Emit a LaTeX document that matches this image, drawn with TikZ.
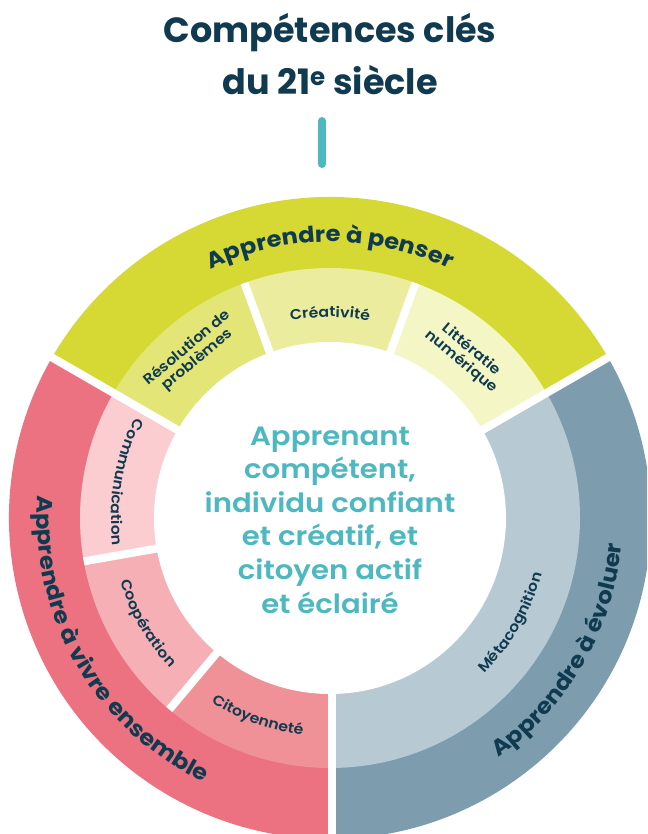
\documentclass[tikz,border=0pt]{standalone}
\usepackage{fontspec}
\setmainfont{Poppins}
\newfontfamily\popsb{Poppins SemiBold}[FakeStretch=1.1]
\newfontfamily\popbw{Poppins Bold}[FakeStretch=1.1]
\usetikzlibrary{decorations.text,calc}
\definecolor{navy}{HTML}{0F3A4F}
\definecolor{cteal}{HTML}{4DB8C0}
\definecolor{yel}{HTML}{D6D934}
\definecolor{yelA}{HTML}{E3E577}
\definecolor{yelB}{HTML}{ECEC9E}
\definecolor{yelC}{HTML}{F4F6C6}
\definecolor{pnk}{HTML}{EC7282}
\definecolor{pnkA}{HTML}{FBCDD1}
\definecolor{pnkB}{HTML}{F6AFB4}
\definecolor{pnkC}{HTML}{F09097}
\definecolor{blu}{HTML}{7D9DAF}
\definecolor{bluL}{HTML}{B7C9D3}
\newcommand\ringpie[4]{\fill[#1] (C) -- ++(#2:#4) arc[start angle=#2, end angle=#3, radius=#4] -- cycle;}
\tikzset{
  gap/.style={white, line width=8pt},
  outerlbl/.style={decorate, decoration={text along path, text align=center, text color=navy,
     text={|\popbw\fontsize{22}{22}\selectfont|#1}}},
  innerlbl/.style={decorate, decoration={text along path, text align=center, text color=navy,
     text={|\popsb\fontsize{14.3}{14.3}\selectfont|#1}}},
  innernode/.style={align=center, text=navy, font=\popsb\fontsize{14.3}{15.5}\selectfont, inner sep=0pt}
}
\begin{document}
\begin{tikzpicture}[x=1pt,y=1pt]
\useasboundingbox (0,0) rectangle (647,834);
\clip (0,0) rectangle (647,834);
\coordinate (C) at (330,316);
% outer ring
\ringpie{yel}{30}{150}{321pt}
\ringpie{pnk}{150}{270}{321pt}
\ringpie{blu}{270}{390}{321pt}
% inner ring
\ringpie{yelA}{110}{150}{250pt}
\ringpie{yelB}{70}{110}{250pt}
\ringpie{yelC}{30}{70}{250pt}
\ringpie{pnkA}{150}{190}{250pt}
\ringpie{pnkB}{190}{230}{250pt}
\ringpie{pnkC}{230}{270}{250pt}
\ringpie{bluL}{270}{390}{250pt}
% centre disc
\fill[white] (C) circle[radius=176pt];
% gaps
\draw[gap] (C) -- ++(30:340pt);
\draw[gap] (C) -- ++(150:340pt);
\draw[gap] ([xshift=2pt]C) -- ++(270:340pt);
\draw[gap] (C) -- ++(70:250pt);
\draw[gap] (C) -- ++(110:250pt);
\draw[gap] (C) -- ++(190:250pt);
\draw[gap] (C) -- ++(230:250pt);
% outer labels
\path[outerlbl={Apprendre à penser}] (C) ++(150:276pt) arc[start angle=150, end angle=30, radius=276pt];
\path[outerlbl={Apprendre à vivre ensemble}] (C) ++(150:293pt) arc[start angle=150, end angle=270, radius=293pt];
\path[outerlbl={Apprendre à évoluer}] (C) ++(270:293pt) arc[start angle=270, end angle=390, radius=293pt];
% inner labels
\path[innerlbl={Créativité}] (C) ++(110:201pt) arc[start angle=110, end angle=70, radius=201pt];
\path[innerlbl={Communication}] (C) ++(150:219pt) arc[start angle=150, end angle=190, radius=219pt];
\path[innerlbl={Coopération}] (C) ++(190:219pt) arc[start angle=190, end angle=230, radius=219pt];
\path[innerlbl={Citoyenneté}] (C) ++(230:219pt) arc[start angle=230, end angle=270, radius=219pt];
\path[innerlbl={Métacognition}] (C) ++(270:219pt) arc[start angle=270, end angle=390, radius=219pt];
\node[innernode, rotate=40] (reso) at ($(C)+(130:214pt)$) {Résolution de\\problèmes};
\node[innernode, rotate=-40] (litt) at ($(C)+(50:212pt)$) {Littératie\\numérique};
% centre text
\node[align=center, text=cteal, font=\popsb\fontsize{26.5}{33.6}\selectfont] (centre) at (330,314)
  {Apprenant\\compétent,\\individu confiant\\et créatif, et\\citoyen actif\\et éclairé};
% title
\node[anchor=base, text=navy, font=\bfseries\fontsize{35}{35}\selectfont] (t1) at (330,791) {Compétences clés};
\node[anchor=base, text=navy, font=\bfseries\fontsize{35}{35}\selectfont] (t2) at (330,739) {du 21\textsuperscript{e} siècle};
% bar
\coordinate (b1) at (322,713);
\coordinate (b2) at (322,670);
\draw[cteal, line width=8pt, line cap=round] (b1) -- (b2);
\end{tikzpicture}
\end{document}
